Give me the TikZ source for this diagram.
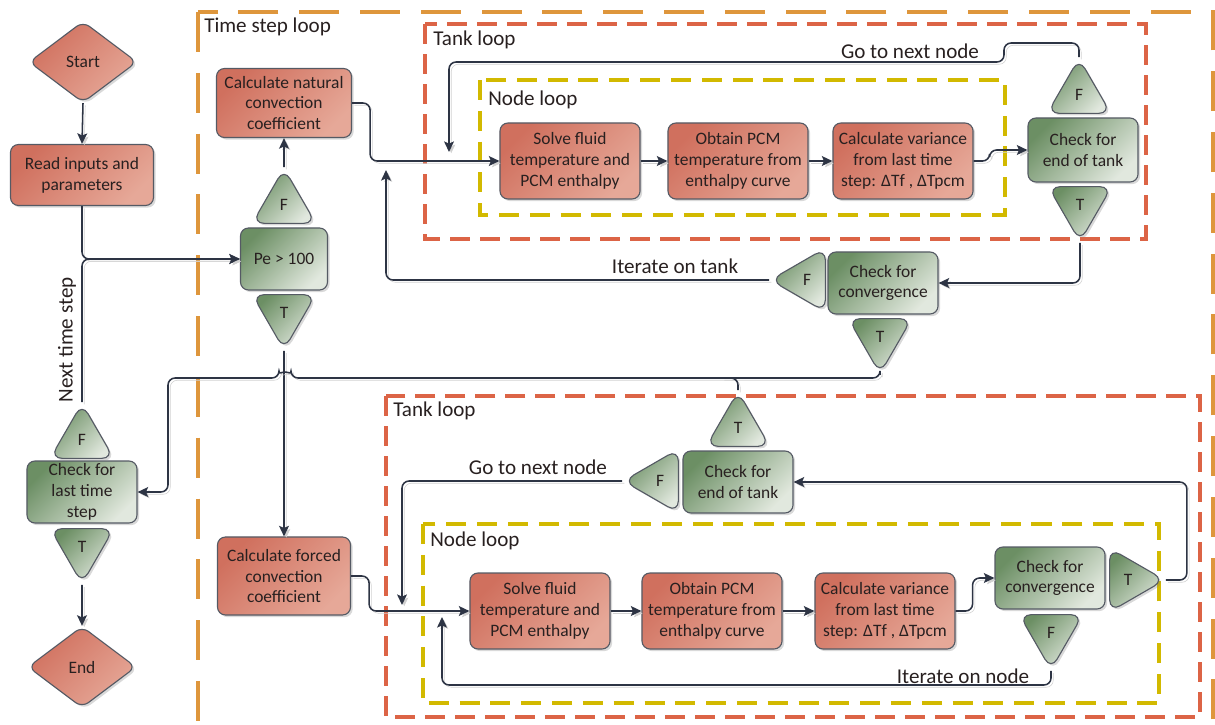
\documentclass[tikz,border=0pt]{standalone}
\usepackage{fontspec}
\setmainfont{Carlito}
\usetikzlibrary{shapes.geometric, arrows.meta, shadows}
\definecolor{salmon}{RGB}{208,112,94}
\definecolor{salmonlight}{RGB}{230,168,152}
\definecolor{sage}{RGB}{108,143,100}
\definecolor{sagelight}{RGB}{225,232,222}
\definecolor{linedark}{RGB}{45,52,68}
\definecolor{framegray}{RGB}{85,90,100}
\definecolor{timeorange}{RGB}{222,150,60}
\definecolor{tankred}{RGB}{220,100,70}
\definecolor{nodeyellow}{RGB}{210,185,0}
\definecolor{inktext}{RGB}{40,32,32}

\begin{document}
\begin{tikzpicture}[x=0.025cm, y=-0.025cm,
		redbox/.style={draw=framegray, line width=0.8pt, rounded corners=0.2cm, top color=salmon, bottom color=salmonlight, shading angle=45, minimum width=3.5cm, minimum height=1.9cm, align=center, text=inktext, inner sep=2pt, font=\fontsize{12.4}{14.8}\selectfont, drop shadow={shadow xshift=1.5pt, shadow yshift=-1.5pt, opacity=0.3}},
		greenbox/.style={redbox, top color=sage, bottom color=sagelight, shading angle=45, minimum width=2.75cm, minimum height=1.55cm},
		flag/.style={regular polygon, regular polygon sides=3, minimum size=1.835cm, rounded corners=0.3cm, draw=framegray, line width=0.8pt, top color=sage, bottom color=sagelight, shading angle=45, inner sep=0pt, text=inktext, font=\fontsize{12.4}{14.8}\selectfont, drop shadow={shadow xshift=1.5pt, shadow yshift=-1.5pt, opacity=0.3}},
		flagdown/.style={flag, shape border rotate=180},
		flagleft/.style={flag, shape border rotate=90},
		flagright/.style={flag, shape border rotate=-90},
		ends/.style={diamond, draw=framegray, line width=0.8pt, rounded corners=0.2cm, top color=salmon, bottom color=salmonlight, shading angle=45, minimum width=2.7cm, minimum height=2.03cm, inner sep=0pt, text=inktext, font=\fontsize{12.4}{14.8}\selectfont, drop shadow={shadow xshift=1.5pt, shadow yshift=-1.5pt, opacity=0.3}},
		conn/.style={draw=linedark, line width=1.1pt, rounded corners=5pt, -{Stealth[length=7.5pt, width=7pt, inset=1.5pt]}, preaction={draw=black!18, transform canvas={shift={(1.6pt,-1.6pt)}}}},
		linkline/.style={conn, -},
		timeframe/.style={draw=timeorange, line width=3.4pt, dash pattern=on 1cm off 0.52cm},
		tankframe/.style={draw=tankred, line width=3.4pt, dash pattern=on 0.5cm off 0.25cm},
		nodeframe/.style={draw=nodeyellow, line width=3.4pt, dash pattern=on 0.5cm off 0.27cm},
		looplabel/.style={anchor=west, inner sep=0pt, text=inktext, font=\fontsize{15}{18}\selectfont},
		pathlabel/.style={inner sep=0pt, text=inktext, font=\fontsize{15}{18}\selectfont}]
	\useasboundingbox (0,0) rectangle (1215,724);

	\draw[timeframe] (198,12) rectangle (1213,740);
	\draw[tankframe] (425,24) rectangle (1146,239);
	\draw[nodeframe] (480,80) rectangle (1005,215);
	\draw[tankframe] (386,396) rectangle (1200,717);
	\draw[nodeframe] (423,524) rectangle (1159,703);
	\node[looplabel] (timelabel) at (204,27) {Time step loop};
	\node[looplabel] (tankAlabel) at (433,40) {Tank loop};
	\node[looplabel] (nodeAlabel) at (488,100) {Node loop};
	\node[looplabel] (tankBlabel) at (393,411) {Tank loop};
	\node[looplabel] (nodeBlabel) at (430,541) {Node loop};

	\node[ends] (start) at (83,62) {Start};
	\node[redbox, minimum width=3.575cm, minimum height=1.525cm] (read) at (82,175) {Read inputs and\\parameters};
	\node[greenbox, inner sep=1pt] (last) at (82,492) {Check for\\last time\\step};
	\node[flag] (lastF) at (82,440) {F};
	\node[flagdown] (lastT) at (82,547) {T};
	\node[ends] (end) at (82,667) {End};

	\node[redbox, minimum width=3.375cm, minimum height=1.725cm] (natural) at (284,103) {Calculate natural\\convection\\coefficient};
	\node[greenbox, minimum width=2.175cm] (pe) at (284,259) {Pe > 100};
	\node[flag] (peF) at (284,205) {F};
	\node[flagdown] (peT) at (284,313) {T};
	\node[redbox, minimum width=3.325cm, minimum height=1.95cm] (forced) at (284,576) {Calculate forced\\convection\\coefficient};

	\node[redbox] (solveA) at (570,161) {Solve fluid\\temperature and\\PCM enthalpy};
	\node[redbox] (obtainA) at (738,161) {Obtain PCM\\temperature from\\enthalpy curve};
	\node[redbox] (varA) at (903,161) {Calculate variance\\from last time\\step: ΔTf , ΔTpcm};
	\node[greenbox, minimum height=1.6cm] (endA) at (1083,150) {Check for\\end of tank};
	\node[flag] (endAF) at (1079,95) {F};
	\node[flagdown] (endAT) at (1080,205) {T};
	\node[greenbox] (convA) at (883,283) {Check for\\convergence};
	\node[flagleft] (convAF) at (807,280) {F};
	\node[flagdown] (convAT) at (880,337) {T};

	\node[greenbox] (endB) at (738,482) {Check for\\end of tank};
	\node[flag] (endBT) at (738,428) {T};
	\node[flagleft] (endBF) at (660,481) {F};
	\node[redbox] (solveB) at (540,611) {Solve fluid\\temperature and\\PCM enthalpy};
	\node[redbox] (obtainB) at (712,611) {Obtain PCM\\temperature from\\enthalpy curve};
	\node[redbox] (varB) at (885,611) {Calculate variance\\from last time\\step: ΔTf , ΔTpcm};
	\node[greenbox] (convB) at (1050,578) {Check for\\convergence};
	\node[flagright] (convBT) at (1128,580) {T};
	\node[flagdown] (convBF) at (1051,633) {F};

	\coordinate (nodeinA) at (449,152);
	\coordinate (iterinA) at (386,170);
	\coordinate (nodeinB) at (402,605);
	\coordinate (iterinB) at (442,617);

	\draw[conn] (start.south) -- (read.north);
	\draw[conn] (read.south) |- (pe.west);
	\draw[conn] (lastF.north) |- (pe.west);
	\draw[conn] (lastT.south) -- (end.north);
	\draw[conn] (peF.north) -- (natural.south);
	\draw[conn] (peT.south) -- (forced.north);

	\draw[conn] (natural.east) -- ++(18,0) |- (solveA.west);
	\draw[conn] (solveA) -- (obtainA);
	\draw[conn] (obtainA) -- (varA);
	\draw[conn] (varA.east) -- ++(16,0) |- (endA.west);
	\draw[conn] (endAF.north) |- (1004,43) |- (449,62) -- (nodeinA);
	\draw[conn] (endAT.south) |- (convA.east);
	\draw[conn] (convAF.west) -| (iterinA);
	\draw[conn] (convAT.south) |- (291,378) arc[start angle=0, end angle=-180, radius=6] -- (168,378) |- (last.east);
	\draw[linkline] (endBT.north) |- (722,378);

	\draw[conn] (forced.east) -- ++(18,0) |- (solveB.west);
	\draw[conn] (solveB) -- (obtainB);
	\draw[conn] (obtainB) -- (varB);
	\draw[conn] (varB.east) -- ++(17,0) |- (convB.west);
	\draw[conn] (convBT.east) -- ++(21,0) |- (endB.east);
	\draw[conn] (convBF.south) |- (442,685) -- (iterinB);
	\draw[conn] (endBF.west) -| (nodeinB);

	\node[pathlabel] (nextlabel) at (67,340) [rotate=90] {Next time step};
	\node[pathlabel] (gonextA) at (910,51) {Go to next node};
	\node[pathlabel] (itertank) at (675,266) {Iterate on tank};
	\node[pathlabel] (gonextB) at (538,467) {Go to next node};
	\node[pathlabel] (iternode) at (963,676) {Iterate on node};
\end{tikzpicture}
\end{document}
